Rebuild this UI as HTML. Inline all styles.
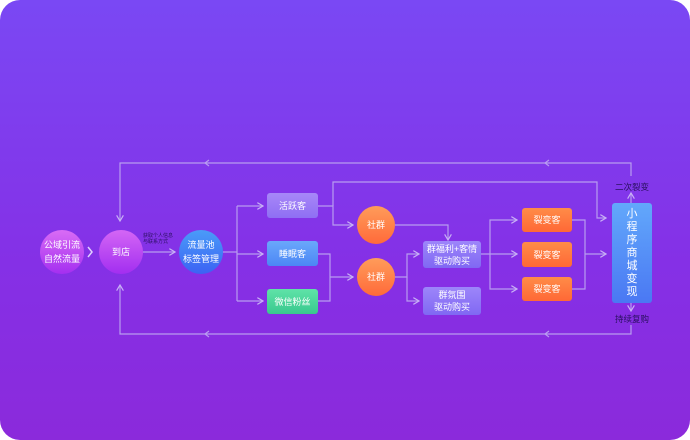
<!DOCTYPE html>
<html><head><meta charset="utf-8"><style>
html,body{margin:0;padding:0;background:#fff;}
.card{position:absolute;left:0;top:0;width:690px;height:440px;border-radius:20px;background:linear-gradient(180deg,#7a48f4 0%,#8530e6 60%,#8b2adb 100%);overflow:hidden;font-family:"Liberation Sans","Noto Sans CJK SC",sans-serif;}
.c{position:absolute;border-radius:50%;color:#fff;font-size:9px;display:flex;align-items:center;justify-content:center;text-align:center;line-height:14px;}
.b{position:absolute;border-radius:3px;color:#fff;font-size:9px;display:flex;align-items:center;justify-content:center;text-align:center;line-height:12px;}
.t{position:absolute;font-size:8.5px;color:#2a1060;}
svg{position:absolute;left:0;top:0;}
</style></head><body><div class="card">
<svg width="690" height="440" fill="none" stroke="#b89cf0" stroke-width="1.2">
<defs><marker id="a" markerWidth="6" markerHeight="6" refX="5" refY="3" orient="auto"><path d="M0,0 L5,3 L0,6" stroke="#c8b0f5" fill="none" stroke-width="1"/></marker></defs>
<path d="M631 176 V163 H120 V221" marker-end="url(#a)"/>
<path d="M631 325 V334 H120 V285" marker-end="url(#a)"/>
<path d="M205 163 l4 -3 M205 163 l4 3 M205 334 l4 -3 M205 334 l4 3 M545 163 l4 -3 M545 163 l4 3 M545 334 l4 -3 M545 334 l4 3"/>
<path d="M88 247 l4 5 l-4 5" stroke="#e0d0ff" stroke-width="1.5"/>
<path d="M143 252 H175" marker-end="url(#a)"/>
<path d="M223 252 H237"/>
<path d="M237 206 V301"/>
<path d="M237 206 H263" marker-end="url(#a)"/>
<path d="M237 254 H263" marker-end="url(#a)"/>
<path d="M237 301 H263" marker-end="url(#a)"/>
<path d="M318 206 H333 V225 H353" marker-end="url(#a)"/>
<path d="M333 206 V182 H597 V218 H606" marker-end="url(#a)"/>
<path d="M318 254 H330 V301 H318 M330 277 H353" marker-end="url(#a)"/>
<path d="M395 225 H448 V240" marker-end="url(#a)"/>
<path d="M395 277 H407 V254 H419" marker-end="url(#a)"/>
<path d="M407 277 V301 H419" marker-end="url(#a)"/>
<path d="M481 254 H517" marker-end="url(#a)"/>
<path d="M490 254 V220 H517" marker-end="url(#a)"/>
<path d="M490 254 V289 H517" marker-end="url(#a)"/>
<path d="M572 220 H585 V289 H572 M585 254 H606" marker-end="url(#a)"/>
<path d="M631 203 V193" marker-end="url(#a)"/>
<path d="M631 303 V311" marker-end="url(#a)"/>
</svg>
<div class="c" style="left:40px;top:230px;width:44px;height:44px;background:linear-gradient(180deg,#d96cf5,#a42ff0);">公域引流<br>自然流量</div>
<div class="c" style="left:99px;top:230px;width:44px;height:44px;background:linear-gradient(180deg,#d466f5,#a22ef0);">到店</div>
<div class="t" style="left:143px;top:233px;font-size:5px;line-height:6px;">获取个人信息<br>与联系方式</div>
<div class="c" style="left:179px;top:230px;width:44px;height:44px;background:linear-gradient(180deg,#4a9cf8,#3c62f4);">流量池<br>标签管理</div>
<div class="b" style="left:267px;top:193px;width:51px;height:25px;background:linear-gradient(180deg,#a788f8,#8f6ff3);">活跃客</div>
<div class="b" style="left:267px;top:241px;width:51px;height:25px;background:linear-gradient(180deg,#6aa8fb,#4c86f5);">睡眠客</div>
<div class="b" style="left:267px;top:289px;width:51px;height:25px;background:linear-gradient(180deg,#5fe3a8,#39c88e);">微信粉丝</div>
<div class="c" style="left:357px;top:206px;width:38px;height:38px;background:linear-gradient(180deg,#ff9c5a,#ff6a3a);">社群</div>
<div class="c" style="left:357px;top:258px;width:38px;height:38px;background:linear-gradient(180deg,#ff9c5a,#ff6a3a);">社群</div>
<div class="b" style="left:423px;top:241px;width:58px;height:27px;background:linear-gradient(180deg,#9d86fa,#8068f3);">群福利+客情<br>驱动购买</div>
<div class="b" style="left:423px;top:287px;width:58px;height:28px;background:linear-gradient(180deg,#9d86fa,#8068f3);">群氛围<br>驱动购买</div>
<div class="b" style="left:522px;top:208px;width:50px;height:24px;background:linear-gradient(180deg,#ff8c48,#ff6836);">裂变客</div>
<div class="b" style="left:522px;top:242px;width:50px;height:25px;background:linear-gradient(180deg,#ff8c48,#ff6836);">裂变客</div>
<div class="b" style="left:522px;top:277px;width:50px;height:24px;background:linear-gradient(180deg,#ff8c48,#ff6836);">裂变客</div>
<div class="b" style="left:612px;top:203px;width:40px;height:100px;background:linear-gradient(180deg,#62a8fb,#4a78f3);font-size:11px;line-height:13px;">小<br>程<br>序<br>商<br>城<br>变<br>现</div>
<div class="t" style="left:606px;top:181px;width:52px;text-align:center;">二次裂变</div>
<div class="t" style="left:606px;top:313px;width:52px;text-align:center;">持续复购</div>
</div></body></html>
